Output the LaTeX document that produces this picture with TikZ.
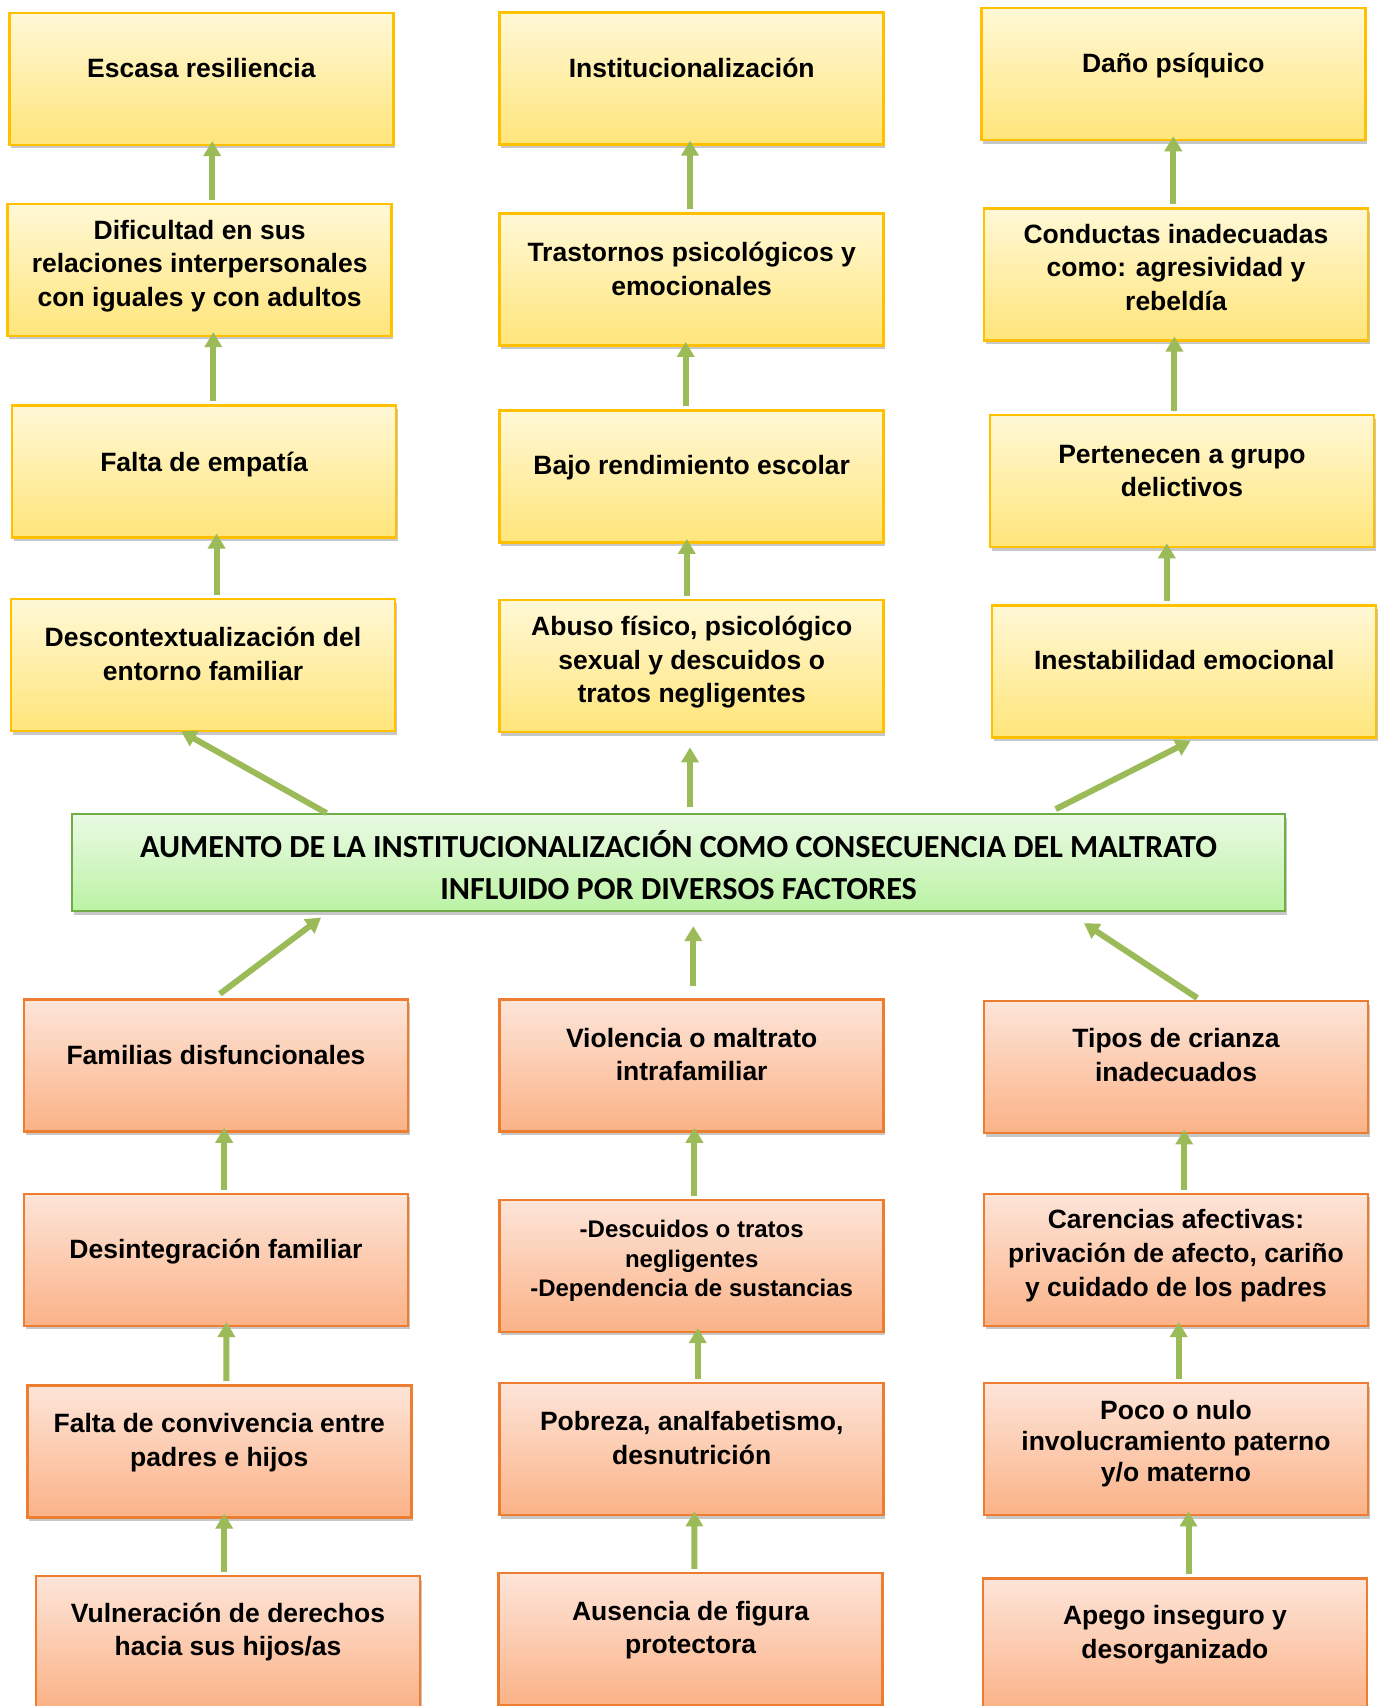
\documentclass[tikz,border=0pt]{standalone}
\usepackage{fontspec}
\setmainfont{Liberation Sans}
\newfontfamily\calib{Carlito}
\usetikzlibrary{arrows.meta,shadows}
\definecolor{ytop}{HTML}{FFF8D6}
\definecolor{ybot}{HTML}{FFE57A}
\definecolor{ybord}{HTML}{FFC000}
\definecolor{otop}{HTML}{FDE5D9}
\definecolor{obot}{HTML}{FBB287}
\definecolor{obord}{HTML}{ED7D31}
\definecolor{gtop}{HTML}{EAFAE4}
\definecolor{gbot}{HTML}{BBF2A4}
\definecolor{gbord}{HTML}{70AD47}
\definecolor{arrc}{HTML}{9BBB59}
\tikzset{
  box/.style={rectangle, minimum width=384pt, minimum height=132pt, inner sep=0pt, line width=2.5pt,
    drop shadow={shadow xshift=1.5pt, shadow yshift=-3.5pt, fill=black, opacity=0.22}},
  ybox/.style={box, draw=ybord, top color=ytop, bottom color=ybot},
  obox/.style={box, draw=obord, top color=otop, bottom color=obot},
  gbox/.style={box, minimum width=1213pt, minimum height=97pt, line width=2pt, draw=gbord, top color=gtop, bottom color=gbot},
  txt/.style={font=\fontsize{26.5}{33.7}\selectfont\bfseries, align=center, text=black, inner sep=0pt},
  stxt/.style={font=\fontsize{24}{29.4}\selectfont\bfseries, align=center, text=black, inner sep=0pt},
  gtxt/.style={font=\calib\fontsize{32.2}{42}\selectfont\bfseries, align=center, text=black, inner sep=0pt},
  arr/.style={draw=arrc, line width=6pt, -{Triangle[width=17pt,length=15pt]}},
  varr/.style={arr, shorten <=3pt, shorten >=-5pt}
}
\begin{document}
\begin{tikzpicture}[x=1pt,y=-1pt]
\path[use as bounding box] (0,0) rectangle (1379,1706);
\clip (0,0) rectangle (1379,1706);
\fill[white] (0,0) rectangle (1379,1706);

% top rows (yellow)
\node[ybox, label={[txt,yshift=11pt]center:Escasa resiliencia}] (b11) at (201.4,78.9) {};
\node[ybox, label={[txt,yshift=10pt]center:Institucionalización}] (b12) at (691.7,78.4) {};
\node[ybox, label={[txt,yshift=8pt]center:Daño psíquico}] (b13) at (1173.3,74.0) {};

\node[ybox, label={[txt,yshift=4pt]center:{Dificultad en sus\\relaciones interpersonales\\con iguales y con adultos}}] (b21) at (199.7,269.9) {};
\node[ybox, label={[txt,yshift=11pt]center:{Trastornos psicológicos y\\emocionales}}] (b22) at (691.7,279.7) {};
\node[ybox, label={[txt,yshift=7pt]center:{Conductas inadecuadas\\como: agresividad y\\rebeldía}}] (b23) at (1176.0,274.3) {};

\node[ybox, label={[txt,yshift=7pt]center:Falta de empatía}] (b31) at (204.1,471.3) {};
\node[ybox, label={[txt,yshift=9pt]center:Bajo rendimiento escolar}] (b32) at (691.7,476.7) {};
\node[ybox, label={[txt,yshift=10pt]center:{Pertenecen a grupo\\delictivos}}] (b33) at (1182.0,481.1) {};

\node[ybox, label={[txt,yshift=11pt]center:{Descontextualización del\\entorno familiar}}] (b41) at (203.0,665.0) {};
\node[ybox, label={[txt,yshift=4pt]center:{Abuso físico, psicológico\\sexual y descuidos o\\tratos negligentes}}] (b42) at (691.7,666.1) {};
\node[ybox, label={[txt,yshift=11pt]center:Inestabilidad emocional}] (b43) at (1184.2,671.5) {};

% central green box
\node[gbox, label={[gtxt,yshift=-2pt]center:{AUMENTO DE LA INSTITUCIONALIZACIÓN COMO CONSECUENCIA DEL MALTRATO\\INFLUIDO POR DIVERSOS FACTORES}}] (grn) at (678.6,862.6) {};

% bottom rows (orange)
\node[obox, label={[txt,yshift=10pt]center:Familias disfuncionales}] (b51) at (216.0,1065.5) {};
\node[obox, label={[txt,yshift=11pt]center:{Violencia o maltrato\\intrafamiliar}}] (b52) at (691.7,1065.5) {};
\node[obox, label={[txt,yshift=12pt]center:{Tipos de crianza\\inadecuados}}] (b53) at (1176.0,1067.2) {};

\node[obox, label={[txt,yshift=8pt]center:Desintegración familiar}] (b61) at (216.0,1259.8) {};
\node[obox, label={[stxt,yshift=5pt]center:{-Descuidos o tratos\\negligentes\\-Dependencia de sustancias}}] (b62) at (691.7,1265.8) {};
\node[obox, label={[txt,yshift=4pt]center:{Carencias afectivas:\\privación de afecto, cariño\\y cuidado de los padres}}] (b63) at (1176.0,1259.8) {};

\node[obox, label={[txt,yshift=9pt]center:{Falta de convivencia entre\\padres e hijos}}] (b71) at (219.3,1451.4) {};
\node[obox, label={[txt,yshift=11pt]center:{Pobreza, analfabetismo,\\desnutrición}}] (b72) at (691.7,1449.2) {};
\node[obox, label={[stxt,font=\fontsize{26.5}{31}\selectfont\bfseries,yshift=6pt]center:{Poco o nulo\\involucramiento paterno\\y/o materno}}] (b73) at (1176.0,1449.2) {};

\node[obox, label={[txt,yshift=10pt]center:{Vulneración de derechos\\hacia sus hijos/as}}] (b81) at (228.0,1642.0) {};
\node[obox, label={[txt,yshift=9pt]center:{Ausencia de figura\\protectora}}] (b82) at (690.6,1639.0) {};
\node[obox, label={[txt,yshift=10pt]center:{Apego inseguro y\\desorganizado}}] (b83) at (1174.9,1644.6) {};

% vertical arrows, upper part
\draw[varr] ([xshift=12.5pt]b21.north) -- ([xshift=10.8pt]b11.south);
\draw[varr] ([xshift=9.2pt]b31.north) -- ([xshift=13.6pt]b21.south);
\draw[varr] ([xshift=13.6pt]b41.north) -- ([xshift=12.5pt]b31.south);
\draw[varr] ([xshift=-1.7pt]b22.north) -- ([xshift=-1.7pt]b12.south);
\draw[varr] ([xshift=-6pt]b32.north) -- ([xshift=-6pt]b22.south);
\draw[varr] ([xshift=-4.9pt]b42.north) -- ([xshift=-4.9pt]b32.south);
\draw[varr] ([xshift=-2.7pt]b23.north) -- ([xshift=0pt]b13.south);
\draw[varr] ([xshift=-7.6pt]b33.north) -- ([xshift=-1.6pt]b23.south);
\draw[varr] ([xshift=-17.4pt]b43.north) -- ([xshift=-15.2pt]b33.south);

% arrows from the green box
\draw[arr, shorten >=-2pt] ([xshift=-352.1pt]grn.north) -- ([xshift=-20.1pt]b41.south);
\draw[arr] ([xshift=11.4pt,yshift=6pt]grn.north) -- ([xshift=-1.7pt,yshift=-14pt]b42.south);
\draw[arr] ([xshift=377.1pt,yshift=4pt]grn.north) -- ([xshift=6.5pt,yshift=-2pt]b43.south);

% arrows to the green box
\draw[arr] ([xshift=3.9pt,yshift=4.4pt]b51.north) -- ([xshift=-357.5pt,yshift=-5.4pt]grn.south);
\draw[arr] ([xshift=1.6pt,yshift=12pt]b52.north) -- ([xshift=14.7pt,yshift=-14pt]grn.south);
\draw[arr] ([xshift=21.2pt,yshift=2pt]b53.north) -- ([xshift=405.4pt,yshift=-11pt]grn.south);

% vertical arrows, lower part
\draw[varr] ([xshift=8.2pt]b61.north) -- ([xshift=8.2pt]b51.south);
\draw[varr] ([xshift=7.1pt]b71.north) -- ([xshift=10.4pt]b61.south);
\draw[varr] ([xshift=-3.8pt]b81.north) -- ([xshift=4.9pt]b71.south);
\draw[varr] ([xshift=2.7pt]b62.north) -- ([xshift=2.7pt]b52.south);
\draw[varr] ([xshift=6pt]b72.north) -- ([xshift=6pt]b62.south);
\draw[varr] ([xshift=3.8pt]b82.north) -- ([xshift=2.7pt]b72.south);
\draw[varr] ([xshift=8.2pt]b63.north) -- ([xshift=8.2pt]b53.south);
\draw[varr] ([xshift=2.7pt]b73.north) -- ([xshift=2.7pt]b63.south);
\draw[varr] ([xshift=13.6pt]b83.north) -- ([xshift=12.5pt]b73.south);
\end{tikzpicture}
\end{document}
